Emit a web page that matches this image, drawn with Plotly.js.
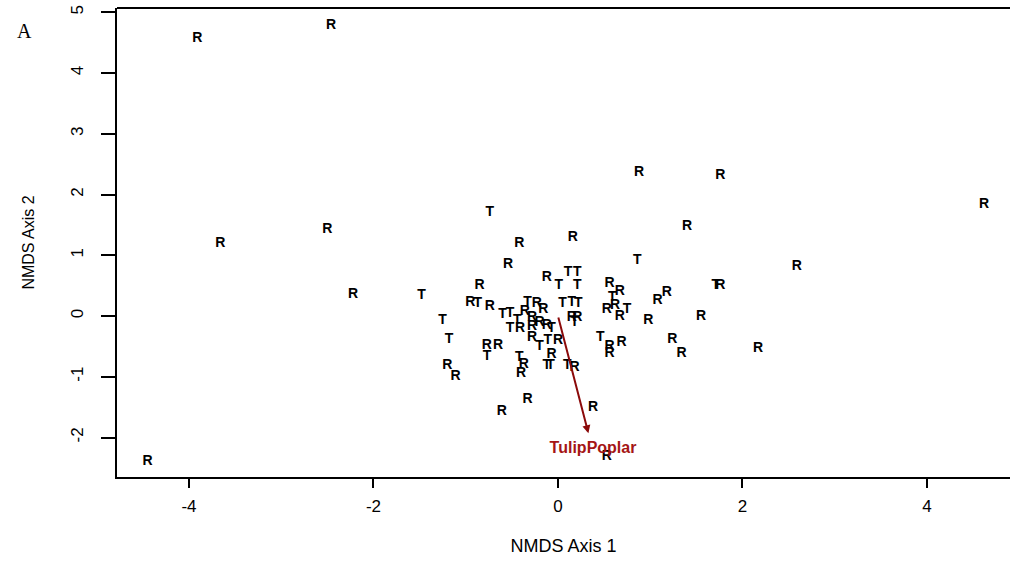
<!DOCTYPE html>
<html>
<head>
<meta charset="utf-8">
<script src="https://cdn.plot.ly/plotly-3.0.1.min.js"></script>
<style>html,body{margin:0;padding:0;background:#fff;overflow:hidden}</style>
</head>
<body>
<div id="chart" style="width:1010px;height:563px"></div>
<script>
// Sites labelled "R"
const rX = [-3.91,-2.46,-3.66,-2.50,-2.22,-4.45,-1.20,-1.11,-0.42,-0.54,-0.85,-0.95,-0.74,-0.77,-0.65,-0.37,-0.40,-0.33,-0.61,0.38,0.53,0.16,-0.12,0.56,0.67,1.18,1.08,0.62,0.53,0.67,0.98,1.55,0.15,0.21,-0.23,-0.16,-0.36,-0.28,-0.41,-0.28,-0.20,-0.12,-0.28,0.00,-0.07,0.18,0.56,0.69,0.56,1.24,1.34,2.17,2.59,4.62,0.88,1.76,1.40,1.76];
const rY = [4.56,4.79,1.20,1.42,0.36,-2.39,-0.82,-0.99,1.20,0.84,0.51,0.23,0.16,-0.48,-0.48,-0.79,-0.94,-1.38,-1.57,-1.50,-2.31,1.29,0.63,0.54,0.41,0.38,0.26,0.18,0.10,0.00,-0.07,0.00,-0.02,-0.02,0.21,0.10,0.07,-0.03,-0.21,-0.18,-0.10,-0.15,-0.36,-0.40,-0.64,-0.84,-0.51,-0.44,-0.61,-0.38,-0.61,-0.53,0.81,1.83,2.36,2.31,1.47,0.51];
// Sites labelled "T"
const tX = [-1.48,-1.25,-1.18,-0.74,-0.87,-0.77,-0.42,0.86,0.01,0.11,0.21,0.21,0.59,0.05,0.15,0.22,0.75,-0.33,-0.60,-0.44,-0.52,-0.07,-0.20,-0.11,-0.12,-0.08,0.10,0.46,1.71,0.18,-0.52];
const tY = [0.33,-0.07,-0.38,1.71,0.21,-0.66,-0.68,0.91,0.51,0.71,0.71,0.51,0.31,0.21,0.23,0.21,0.10,0.23,0.02,-0.07,-0.21,-0.20,-0.51,-0.40,-0.82,-0.82,-0.81,-0.36,0.51,-0.10,0.04];
// Fitted species vector
const vecName = ["TulipPoplar"];
const vecX = [0.33];
const vecY = [-1.93];
const vecLabelX = [0.38];
const vecLabelY = [-2.19];
const xTicks = [-4,-2,0,2,4];
const yTicks = [-2,-1,0,1,2,3,4,5];

const markFont = {family:"Liberation Sans, Arial, sans-serif", size:14, color:"#000", weight:"bold"};
const arrowCol = "#8b0a0a";

const traces = [
  {x:rX, y:rY, mode:"text", text:rX.map(()=>"R"), textfont:markFont, textposition:"middle center", hoverinfo:"x+y", showlegend:false, cliponaxis:false},
  {x:tX, y:tY, mode:"text", text:tX.map(()=>"T"), textfont:markFont, textposition:"middle center", hoverinfo:"x+y", showlegend:false, cliponaxis:false},
  {x:vecLabelX, y:vecLabelY, mode:"text", text:vecName, textfont:{family:"Liberation Sans, Arial, sans-serif", size:16, color:"#a51515", weight:"bold"}, textposition:"middle center", showlegend:false, hoverinfo:"text"}
];

const axFont = {family:"Liberation Sans, Arial, sans-serif", size:17, color:"#000"};
const layout = {
  width:1010, height:563,
  margin:{l:117, r:0, t:8, b:86, pad:0},
  paper_bgcolor:"#fff", plot_bgcolor:"#fff",
  showlegend:false,
  xaxis:{range:[-4.78,4.90], tickvals:xTicks, ticktext:xTicks.map(String), ticks:"outside", ticklen:9, tickwidth:2, tickcolor:"#000",
         showline:true, linewidth:2, linecolor:"#000", showgrid:false, zeroline:false, tickfont:axFont, ticklabelstandoff:4,
         title:{text:"NMDS Axis 1", font:{family:"Liberation Sans, Arial, sans-serif", size:18, color:"#000"}, standoff:24}},
  yaxis:{range:[-2.65,5.07], tickvals:yTicks, ticktext:yTicks.map(String), ticks:"outside", ticklen:14, tickwidth:2, tickcolor:"#000",
         showline:true, linewidth:2, linecolor:"#000", showgrid:false, zeroline:false, tickfont:axFont, tickangle:-90, ticklabelstandoff:11,
         title:{text:"NMDS Axis 2", font:{family:"Liberation Sans, Arial, sans-serif", size:16, color:"#000"}, standoff:30}},
  shapes:[{type:"line", xref:"paper", yref:"paper", x0:0, x1:1.01, y0:1, y1:1, line:{color:"#000", width:2}}],
  annotations:[
    {x:vecX[0], y:vecY[0], ax:0, ay:0, xref:"x", yref:"y", axref:"x", ayref:"y", showarrow:true, arrowhead:2, arrowsize:0.8, arrowwidth:2, arrowcolor:arrowCol, text:""},
    {x:0, y:0, xref:"paper", yref:"paper", text:"A", showarrow:false, font:{family:"Liberation Serif, Times New Roman, serif", size:20, color:"#000"}}
  ]
};
// place panel letter in pixel space
layout.annotations[1].x = (15-117)/893;
layout.annotations[1].y = (477-18)/469;

Plotly.newPlot("chart", traces, layout, {displayModeBar:false, staticPlot:true});
</script>
</body>
</html>
